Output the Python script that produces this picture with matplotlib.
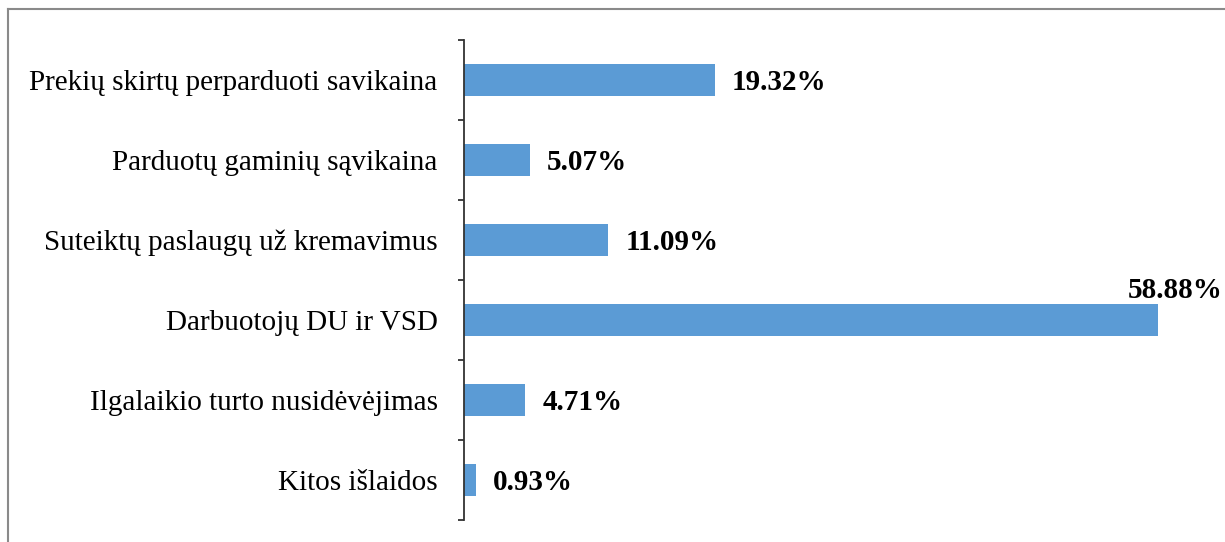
import matplotlib
matplotlib.use("Agg")
import matplotlib.pyplot as plt
from matplotlib.lines import Line2D

categories = [
    "Prekių skirtų perparduoti savikaina",
    "Parduotų gaminių sąvikaina",
    "Suteiktų paslaugų už kremavimus",
    "Darbuotojų DU ir VSD",
    "Ilgalaikio turto nusidėvėjimas",
    "Kitos išlaidos",
]
values = [19.32, 5.07, 11.09, 58.88, 4.71, 0.93]
value_labels = ["19.32%", "5.07%", "11.09%", "58.88%", "4.71%", "0.93%"]

plt.rcParams['font.family'] = ['Liberation Serif', 'DejaVu Serif']

DPI = 100
fig = plt.figure(figsize=(12.25, 5.42), dpi=DPI)
ax = fig.add_axes([464/1225, 1-520/542, (1158-464)/1225, 480/542])

XMAX = 53.4
n = len(categories)
ypos = list(range(n))
ax.barh(ypos, values, height=0.41, color='#5B9BD5', clip_on=True)
ax.set_xlim(0, XMAX)
ax.set_ylim(n - 0.5, -0.5)

for s in ['top', 'right', 'bottom']:
    ax.spines[s].set_visible(False)
ax.spines['left'].set_color('#333333')
ax.spines['left'].set_linewidth(1.3)
ax.set_xticks([])

ax.set_yticks([i - 0.5 for i in range(n + 1)], minor=False)
ax.set_yticklabels([])
ax.tick_params(axis='y', which='major', length=4.3, width=1.3, color='#333333', direction='out')
ax.set_yticks(ypos, minor=True)
ax.set_yticklabels(categories, minor=True, fontsize=21)
ax.tick_params(axis='y', which='minor', length=0, pad=19)

for i, (v, lab) in enumerate(zip(values, value_labels)):
    if v <= XMAX:
        ax.annotate(lab, (v, i), xytext=(17, -3), textcoords='offset pixels',
                    ha='left', va='center', fontsize=21, fontweight='bold')
    else:
        ax.annotate(lab, (XMAX, i - 0.205), xytext=(-30, 0), textcoords='offset pixels',
                    ha='left', va='bottom', fontsize=21, fontweight='bold',
                    annotation_clip=False)

# outer frame (top and left visible)
fig.add_artist(Line2D([8/1225, 1], [1-9/542, 1-9/542], transform=fig.transFigure,
                      color='#8a8a8a', lw=1.5))
fig.add_artist(Line2D([8/1225, 8/1225], [0, 1-9/542], transform=fig.transFigure,
                      color='#8a8a8a', lw=1.5))

fig.savefig("out.png", dpi=DPI)
